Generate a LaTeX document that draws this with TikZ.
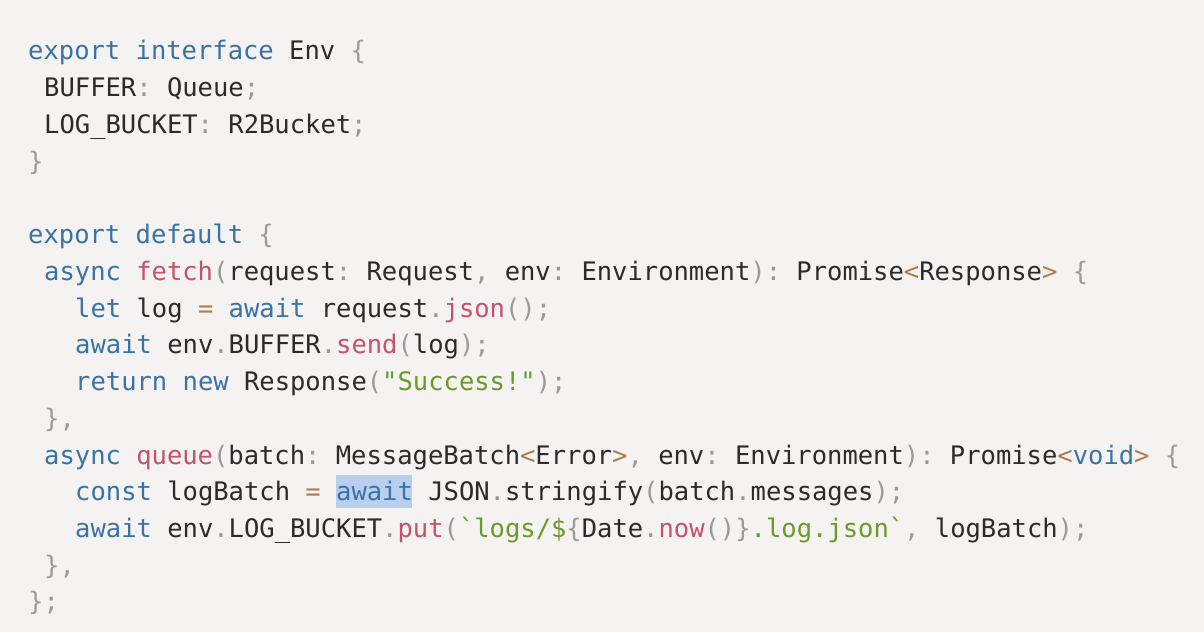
\documentclass[tikz,border=0pt]{standalone}
\usepackage{fontspec}
\setmonofont{DejaVu Sans Mono}
\definecolor{bg}{HTML}{F4F3F1}
\definecolor{kwc}{HTML}{3A72A6}
\definecolor{fnc}{HTML}{C7506B}
\definecolor{stc}{HTML}{6A9A2A}
\definecolor{puc}{HTML}{9A9A9A}
\definecolor{opc}{HTML}{B07C4F}
\definecolor{txc}{HTML}{2B2B2B}
\definecolor{hlc}{HTML}{B8D0EE}
\newcommand{\kw}[1]{\textcolor{kwc}{#1}}
\newcommand{\fn}[1]{\textcolor{fnc}{#1}}
\newcommand{\sto}[1]{\textcolor{stc}{#1}}
\newcommand{\pu}[1]{\textcolor{puc}{#1}}
\newcommand{\op}[1]{\textcolor{opc}{#1}}
\begin{document}
\begin{tikzpicture}[x=1pt,y=1pt,
  codeline/.style={anchor=base west,inner sep=0pt,text=txc,font=\fontsize{25.5}{28}\ttfamily}]
\fill[bg] (0,0) rectangle (1204,632);
\useasboundingbox (0,0) rectangle (1204,632);
\fill[hlc] (336,124) rectangle (412,157);
\def\b#1{\fpeval{632-60-36.73*#1}}
\node[codeline] (l1) at (28,{\b{0}}) {\kw{export} \kw{interface} Env \pu{\{}};
\node[codeline] (l2) at (44,{\b{1}}) {BUFFER\pu{:} Queue\pu{;}};
\node[codeline] (l3) at (44,{\b{2}}) {LOG\_BUCKET\pu{:} R2Bucket\pu{;}};
\node[codeline] (l4) at (28,{\b{3}}) {\pu{\}}};
\node[codeline] (l6) at (28,{\b{5}}) {\kw{export} \kw{default} \pu{\{}};
\node[codeline] (l7) at (44,{\b{6}}) {\kw{async} \fn{fetch}\pu{(}request\pu{:} Request\pu{,} env\pu{:} Environment\pu{):} Promise\op{<}Response\op{>} \pu{\{}};
\node[codeline] (l8) at (75,{\b{7}}) {\kw{let} log \op{=} \kw{await} request\pu{.}\fn{json}\pu{();}};
\node[codeline] (l9) at (75,{\b{8}}) {\kw{await} env\pu{.}BUFFER\pu{.}\fn{send}\pu{(}log\pu{);}};
\node[codeline] (l10) at (75,{\b{9}}) {\kw{return} \kw{new} Response\pu{(}\sto{"Success!"}\pu{);}};
\node[codeline] (l11) at (44,{\b{10}}) {\pu{\},}};
\node[codeline] (l12) at (44,{\b{11}}) {\kw{async} \fn{queue}\pu{(}batch\pu{:} MessageBatch\op{<}Error\op{>}\pu{,} env\pu{:} Environment\pu{):} Promise\op{<}\kw{void}\op{>} \pu{\{}};
\node[codeline] (l13) at (75,{\b{12}}) {\kw{const} logBatch \op{=} \kw{await} JSON\pu{.}stringify\pu{(}batch\pu{.}messages\pu{);}};
\node[codeline] (l14) at (75,{\b{13}}) {\kw{await} env\pu{.}LOG\_BUCKET\pu{.}\fn{put}\pu{(}\sto{`logs/\$}\pu{\{}Date\pu{.}\fn{now}\pu{()\}}\sto{.log.json`}\pu{,} logBatch\pu{);}};
\node[codeline] (l15) at (44,{\b{14}}) {\pu{\},}};
\node[codeline] (l16) at (28,{\b{15}}) {\pu{\};}};
\end{tikzpicture}
\end{document}
